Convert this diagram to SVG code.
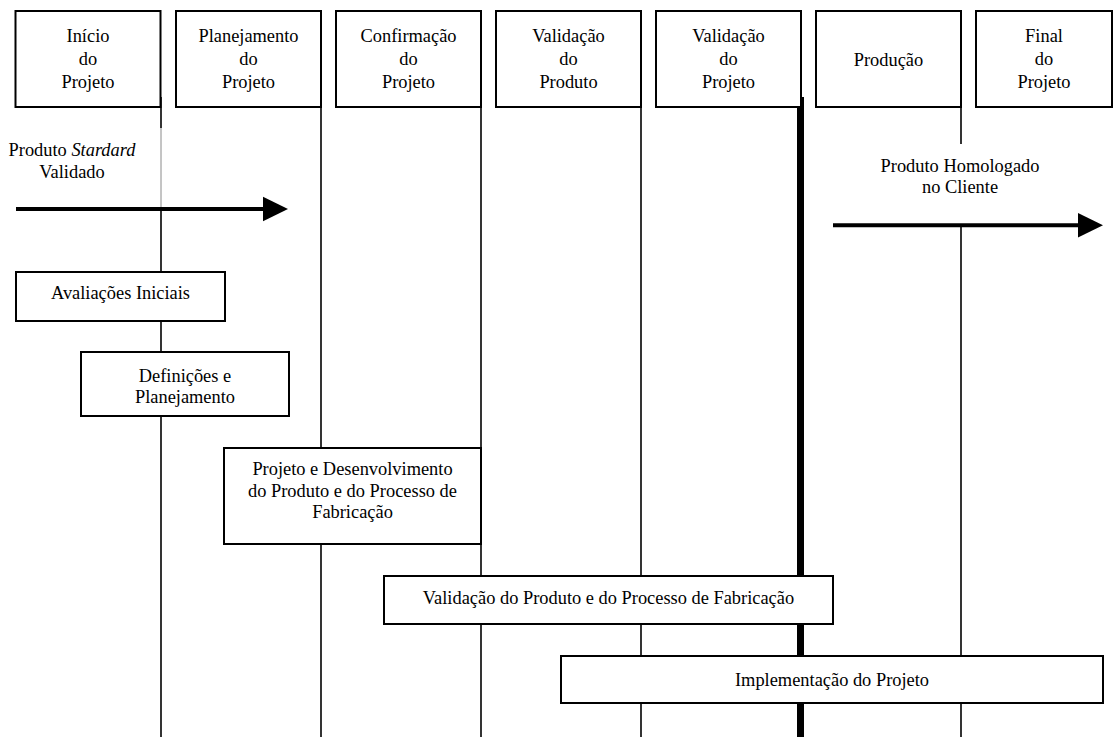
<svg xmlns="http://www.w3.org/2000/svg" width="1114" height="747" viewBox="0 0 1114 747" font-family="'Liberation Serif', 'DejaVu Serif', serif">
  <style>
    .box { fill: #fff; stroke: #000; stroke-width: 2; }
    .lane { stroke: #000; stroke-width: 1.6; fill: none; }
    .gate { stroke: #000; stroke-width: 7; fill: none; }
    .flow { stroke: #000; stroke-width: 4; fill: none; }
    text { font-family: 'Liberation Serif', 'DejaVu Serif', serif; font-size: 18.4px; fill: #000; text-anchor: middle; }
  </style>
  <defs>
    <marker id="head" markerUnits="userSpaceOnUse" markerWidth="25" markerHeight="25" refX="0" refY="12.3" orient="auto" overflow="visible">
      <path d="M0,0 L25,12.3 L0,24.6 Z" fill="#000"/>
    </marker>
  </defs>
  <rect width="1114" height="747" fill="#fff"/>

  <!-- phase lines and flow arrows -->
  <g id="connectors">
    <line class="lane" x1="161" y1="97" x2="161" y2="128"/>
    <line x1="161" y1="128" x2="161" y2="209" stroke="#8a8a8a" stroke-width="1"/>
    <line class="lane" x1="161" y1="209" x2="161" y2="737"/>
    <line class="lane" x1="321" y1="97" x2="321" y2="737"/>
    <line class="lane" x1="481" y1="97" x2="481" y2="737"/>
    <line class="lane" x1="641" y1="97" x2="641" y2="737"/>
    <line class="gate" x1="800.5" y1="97" x2="800.5" y2="737"/>
    <line class="lane" x1="961" y1="97" x2="961" y2="144"/>
    <line class="lane" x1="961" y1="225" x2="961" y2="737"/>
    <line class="flow" x1="16" y1="209" x2="263" y2="209" marker-end="url(#head)"/>
    <line class="flow" x1="833" y1="225.3" x2="1078" y2="225.3" marker-end="url(#head)"/>
  </g>

  <!-- phase headers -->
  <g id="inicio">
    <rect class="box" x="15.5" y="11" width="145" height="96"/>
    <text x="88" y="42">Início</text>
    <text x="88" y="65">do</text>
    <text x="88" y="88">Projeto</text>
  </g>
  <g id="planejamento">
    <rect class="box" x="176" y="11" width="145" height="96"/>
    <text x="248.5" y="42">Planejamento</text>
    <text x="248.5" y="65">do</text>
    <text x="248.5" y="88">Projeto</text>
  </g>
  <g id="confirmacao">
    <rect class="box" x="336" y="11" width="145" height="96"/>
    <text x="408.5" y="42">Confirmação</text>
    <text x="408.5" y="65">do</text>
    <text x="408.5" y="88">Projeto</text>
  </g>
  <g id="validacao-produto">
    <rect class="box" x="496" y="11" width="145" height="96"/>
    <text x="568.5" y="42">Validação</text>
    <text x="568.5" y="65">do</text>
    <text x="568.5" y="88">Produto</text>
  </g>
  <g id="validacao-projeto">
    <rect class="box" x="656" y="11" width="145" height="96"/>
    <text x="728.5" y="42">Validação</text>
    <text x="728.5" y="65">do</text>
    <text x="728.5" y="88">Projeto</text>
  </g>
  <g id="producao">
    <rect class="box" x="816" y="11" width="145" height="96"/>
    <text x="888.5" y="66">Produção</text>
  </g>
  <g id="final">
    <rect class="box" x="976" y="11" width="136" height="96"/>
    <text x="1044" y="42">Final</text>
    <text x="1044" y="65">do</text>
    <text x="1044" y="88">Projeto</text>
  </g>

  <!-- arrow labels -->
  <g id="label-standard">
    <text x="72" y="156">Produto <tspan font-style="italic">Stardard</tspan></text>
    <text x="72" y="177.5">Validado</text>
  </g>
  <g id="label-homologado">
    <text x="960" y="172">Produto Homologado</text>
    <text x="960" y="193">no Cliente</text>
  </g>

  <!-- activities -->
  <g id="avaliacoes">
    <rect class="box" x="16" y="272" width="209" height="49"/>
    <text x="120.5" y="299">Avaliações Iniciais</text>
  </g>
  <g id="definicoes">
    <rect class="box" x="81" y="352" width="208" height="64"/>
    <text x="185" y="382">Definições e</text>
    <text x="185" y="403">Planejamento</text>
  </g>
  <g id="desenvolvimento">
    <rect class="box" x="224" y="448" width="257" height="96"/>
    <text x="352.5" y="475">Projeto e Desenvolvimento</text>
    <text x="352.5" y="496.5">do Produto e do Processo de</text>
    <text x="352.5" y="518">Fabricação</text>
  </g>
  <g id="validacao-processo">
    <rect class="box" x="384" y="576" width="449" height="48"/>
    <text x="608.5" y="604">Validação do Produto e do Processo de Fabricação</text>
  </g>
  <g id="implementacao">
    <rect class="box" x="561" y="656" width="542" height="47"/>
    <text x="832" y="686">Implementação do Projeto</text>
  </g>
</svg>
